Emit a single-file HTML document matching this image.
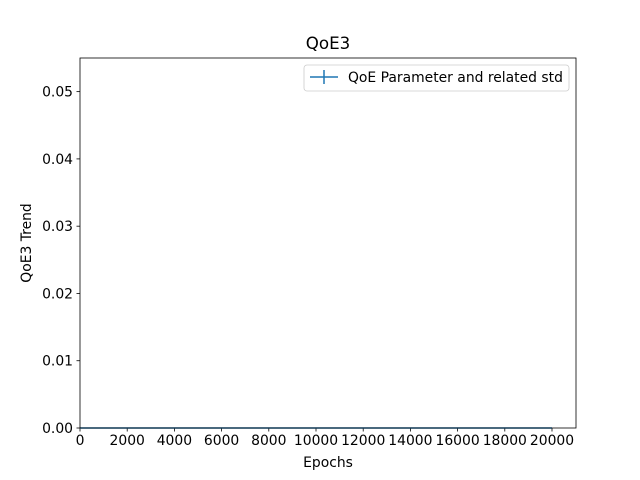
<!DOCTYPE html>
<html><head><meta charset="utf-8"><style>
body{margin:0;background:#fff;}
svg{display:block;font-family:"DejaVu Sans","Liberation Sans",sans-serif;}
</style></head><body>
<svg id="chart" width="640" height="480" viewBox="0 0 640 480" xmlns="http://www.w3.org/2000/svg">
<rect width="640" height="480" fill="#fff"/>
<text x="328" y="49" font-size="16.7" text-anchor="middle">QoE3</text>
<g id="ticks"></g>
<g id="series"></g>
<rect x="80" y="58" width="496" height="370" fill="none" stroke="#000" stroke-width="0.8"/>
<text x="328" y="467" font-size="13.9" text-anchor="middle">Epochs</text>
<text transform="translate(31,243) rotate(-90)" font-size="13.9" text-anchor="middle">QoE3 Trend</text>
<g>
<rect x="304" y="65" width="265" height="26" rx="3" fill="#fff" stroke="#ccc" stroke-width="0.8"/>
<line x1="310" y1="77" x2="338" y2="77" stroke="#1f77b4" stroke-width="1.5"/>
<line x1="324" y1="70" x2="324" y2="84" stroke="#1f77b4" stroke-width="1.5"/>
<text x="348" y="82" font-size="13.9">QoE Parameter and related std</text>
</g>
</svg>
<script>
const epochs=[0,2000,4000,6000,8000,10000,12000,14000,16000,18000,20000];
const values=[0,0,0,0,0,0,0,0,0,0,0];
const stds=[0,0,0,0,0,0,0,0,0,0,0];
const xTicks=[0,2000,4000,6000,8000,10000,12000,14000,16000,18000,20000];
const yTicks=[0,0.01,0.02,0.03,0.04,0.05];
const yTickLabels=["0.00","0.01","0.02","0.03","0.04","0.05"];
const NS="http://www.w3.org/2000/svg";
const X0=80,X1=576,Y0=428,Y1=58,XMAX=21017,YMAX=0.055;
const sx=v=>X0+v/XMAX*(X1-X0);
const sy=v=>Y0-v/YMAX*(Y0-Y1);
const tk=document.getElementById('ticks');
function mk(t,a,p){const e=document.createElementNS(NS,t);for(const k in a)e.setAttribute(k,a[k]);p.appendChild(e);return e;}
xTicks.forEach(v=>{
 const l=mk('line',{x1:sx(v),x2:sx(v),y1:Y0,y2:Y0+3.5,stroke:'#000','stroke-width':0.8},tk);
 
 
 const t=mk('text',{x:sx(v),y:Y0+17,'font-size':13.9,'text-anchor':'middle'},tk);
 
 
 t.textContent=v;
});
yTicks.forEach((v,i)=>{
 const l=mk('line',{x1:X0-3.5,x2:X0,y1:sy(v),y2:sy(v),stroke:'#000','stroke-width':0.8},tk);
 
 
 const t=mk('text',{x:X0-7,y:sy(v)+5,'font-size':13.9,'text-anchor':'end'},tk);
 
 
 t.textContent=yTickLabels[i];
});
const sg=document.getElementById('series');
const pl=mk('polyline',{points:epochs.map((e,i)=>sx(e)+','+sy(values[i])).join(' '),fill:'none',stroke:'#1f77b4','stroke-width':1.5},sg);


epochs.forEach((e,i)=>{
 const b=mk('line',{x1:sx(e),x2:sx(e),y1:sy(values[i]-stds[i]),y2:sy(values[i]+stds[i]),stroke:'#1f77b4','stroke-width':1.5},sg);
 
 
});
</script>
</body></html>
